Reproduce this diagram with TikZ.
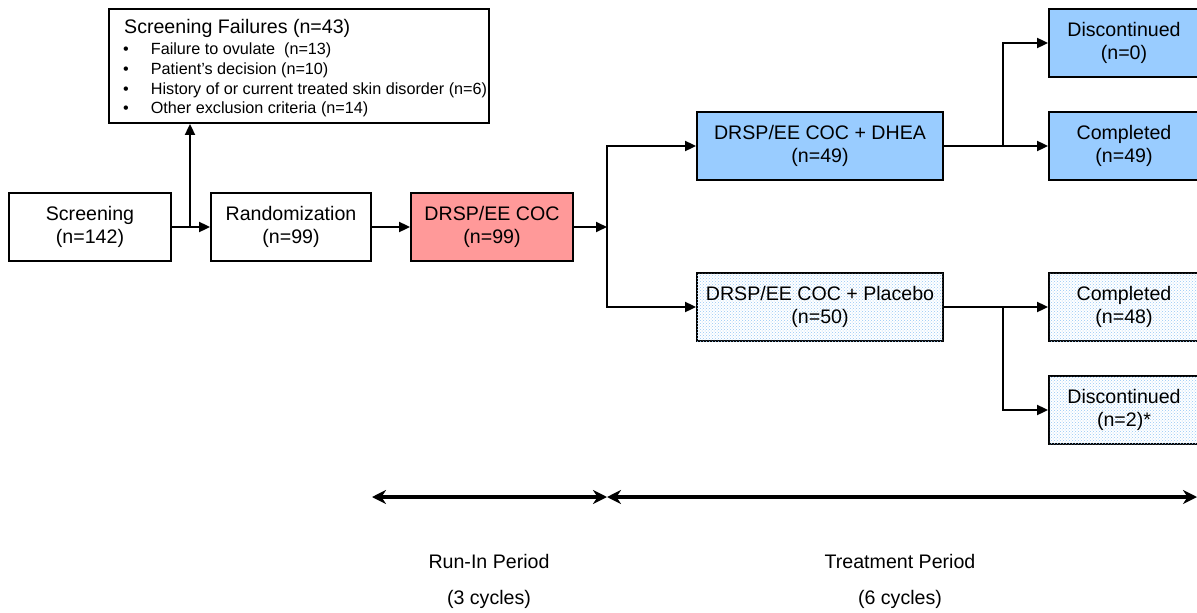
\documentclass[tikz,border=0pt]{standalone}
\usepackage{fontspec}
\setmainfont{Liberation Sans}
\usetikzlibrary{arrows.meta,patterns}
\definecolor{redfill}{RGB}{255,153,153}
\definecolor{bluefill}{RGB}{153,204,255}
\definecolor{dotblue}{RGB}{150,200,245}
\newcommand{\mainfs}{\fontsize{19.6}{23}\selectfont}
\newcommand{\smallfs}{\fontsize{16.2}{19.7}\selectfont}
\tikzset{
  box/.style={draw, line width=1.8, minimum height=68, inner sep=0, align=center, font=\mainfs},
  arr/.style={line width=1.8, -{Triangle[length=11,width=10]}},
  tl/.style={line width=3.6, {Stealth[length=14,width=14]}-{Stealth[length=14,width=14]}},
  lbl/.style={font=\mainfs, inner sep=0},
  dotted box/.style={box, fill=white, postaction={pattern=crosshatch dots, pattern color=dotblue}}
}
\begin{document}
\begin{tikzpicture}[x=1pt,y=-1pt]
\useasboundingbox (0,0) rectangle (1197,613);
\clip (0,0) rectangle (1197,613);
\fill[white] (0,0) rectangle (1197,613);
% screening failures box
\node[draw, line width=1.8, minimum width=380, minimum height=114, inner sep=0] (sf) at (299,66) {};
\node[anchor=base west, font=\mainfs, inner sep=0] (sft) at (124,34) {Screening Failures (n=43)};
\node[anchor=base west, font=\smallfs, inner sep=0] (sf1) at (123,54) {\textbullet\hspace{22pt}Failure to ovulate\ \ (n=13)};
\node[anchor=base west, font=\smallfs, inner sep=0] (sf2) at (123,74) {\textbullet\hspace{22pt}Patient's decision (n=10)};
\node[anchor=base west, font=\smallfs, inner sep=0] (sf3) at (123,94) {\textbullet\hspace{22pt}History of or current treated skin disorder (n=6)};
\node[anchor=base west, font=\smallfs, inner sep=0] (sf4) at (123,113) {\textbullet\hspace{22pt}Other exclusion criteria (n=14)};
% main flow
\node[box, minimum width=162] (scr) at (90,227) {Screening\\(n=142)};
\node[box, minimum width=160] (rand) at (291,227) {Randomization\\(n=99)};
\node[box, minimum width=162, fill=redfill] (coc) at (492,227) {DRSP/EE COC\\(n=99)};
\node[box, minimum width=246, fill=bluefill] (dhea) at (820,146) {DRSP/EE COC + DHEA\\(n=49)};
\node[dotted box, minimum width=246] (plac) at (820,307) {DRSP/EE COC + Placebo\\(n=50)};
\node[box, minimum width=150, fill=bluefill] (disc0) at (1124,43) {Discontinued\\(n=0)};
\node[box, minimum width=150, fill=bluefill] (comp49) at (1124,146) {Completed\\(n=49)};
\node[dotted box, minimum width=150] (comp48) at (1124,307) {Completed\\(n=48)};
\node[dotted box, minimum width=150] (disc2) at (1124,410) {Discontinued\\(n=2)*};
% connectors
\draw[arr] (scr.east) -- (rand.west);
\coordinate (b1) at (190,227);
\draw[arr] (b1) -- (sf.south -| b1);
\draw[arr] (rand.east) -- (coc.west);
\coordinate (s1) at (607,227);
\draw[arr] (coc.east) -- (s1);
\draw[arr] (s1) |- (dhea.west);
\draw[arr] (s1) |- (plac.west);
\coordinate (s2) at (1003,146);
\draw[arr] (dhea.east) -- (comp49.west);
\draw[arr] (s2) |- (disc0.west);
\coordinate (s3) at (1003,307);
\draw[arr] (plac.east) -- (comp48.west);
\draw[arr] (s3) |- (disc2.west);
% timeline
\coordinate (t1) at (372,497);
\coordinate (t2) at (607,497);
\coordinate (t3) at (1197,497);
\draw[tl] (t1) -- (t2);
\draw[tl] (t2) -- (t3);
\node[lbl] (run) at (489,561) {Run-In Period};
\node[lbl] (runc) at (489,599) {(3 cycles)};
\node[lbl] (trt) at (900,561) {Treatment Period};
\node[lbl] (trtc) at (900,599) {(6 cycles)};
\end{tikzpicture}
\end{document}
